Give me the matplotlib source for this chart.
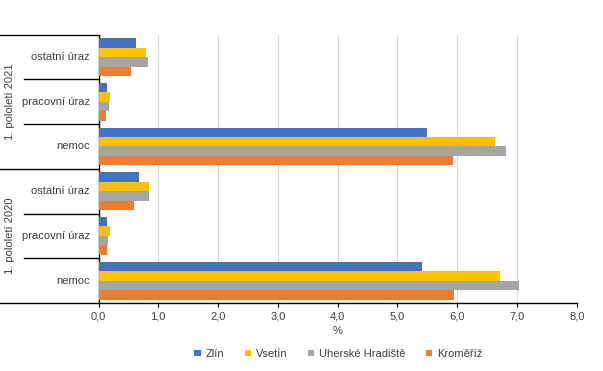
import matplotlib
matplotlib.use("Agg")
import matplotlib.pyplot as plt
import matplotlib.transforms as mtransforms
from matplotlib.lines import Line2D
import numpy as np

plt.rcParams['font.family'] = ['Liberation Sans', 'DejaVu Sans']

# categories bottom -> top
categories = ["nemoc", "pracovní úraz", "ostatní úraz", "nemoc", "pracovní úraz", "ostatní úraz"]
periods = ["1. pololetí 2020", "1. pololetí 2021"]
series_names = ["Zlín", "Vsetín", "Uherské Hradiště", "Kroměříž"]
zlin = [5.42, 0.14, 0.67, 5.50, 0.14, 0.62]
vsetin = [6.71, 0.19, 0.84, 6.64, 0.20, 0.79]
uh = [7.03, 0.16, 0.85, 6.81, 0.17, 0.82]
kromeriz = [5.95, 0.14, 0.60, 5.93, 0.12, 0.54]
xticks = [0, 1, 2, 3, 4, 5, 6, 7, 8]

colors = ["#4472C4", "#FFC000", "#A5A5A5", "#ED7D31"]
text_color = "#404040"
fs = 8

W, H = 603, 371
fig = plt.figure(figsize=(W / 100, H / 100), dpi=100)
left, right, top, bottom = 98.5, 576.7, 34.7, 303.0
ax = fig.add_axes([left / W, 1 - bottom / H, (right - left) / W, (bottom - top) / H])

y = np.arange(len(categories))
h = 0.212
offsets = [1.5, 0.5, -0.5, -1.5]
for vals, off, c, name in zip([zlin, vsetin, uh, kromeriz], offsets, colors, series_names):
    ax.barh(y + off * h, vals, height=h, color=c, label=name, zorder=3)

ax.set_xlim(0, 8)
ax.set_ylim(-0.5, 5.5)
ax.set_xticks(xticks)
ax.set_xticklabels([f"{v:.1f}".replace(".", ",") for v in xticks], fontsize=fs, color=text_color)
ax.set_yticks([])
ax.grid(axis="x", color="#D9D9D9", linewidth=0.8, zorder=0)
for s in ["top", "right"]:
    ax.spines[s].set_visible(False)
ax.spines["left"].set_color("black")
ax.spines["bottom"].set_color("black")
ax.spines["left"].set_linewidth(1.0)
ax.spines["bottom"].set_linewidth(1.0)
ax.tick_params(axis="x", length=3, width=0.8, color="black", pad=3)
ax.set_xlabel("%", fontsize=fs, color=text_color, labelpad=3)

trans = mtransforms.blended_transform_factory(ax.transAxes, ax.transData)
axw = right - left
x_full = -left / axw
x_cat = -(left - 24) / axw
for yy in [-0.5, 2.5, 5.5]:
    ax.add_line(Line2D([x_full, 0], [yy, yy], transform=trans, color="black", lw=1.0, clip_on=False))
for yy in [0.5, 1.5, 3.5, 4.5]:
    ax.add_line(Line2D([x_cat, 0], [yy, yy], transform=trans, color="black", lw=1.0, clip_on=False))

x_lab = -(left - 90) / axw
for yi, cat in zip(y, categories):
    ax.text(x_lab, yi, cat, transform=trans, ha="right", va="center", fontsize=fs, color=text_color)
x_per = -(left - 10.5) / axw
for yc, per in zip([1, 4], periods):
    ax.text(x_per, yc, per, transform=trans, ha="center", va="center", rotation=90, fontsize=fs, color=text_color)

leg = fig.legend(loc="center", bbox_to_anchor=(338.5 / W, 1 - 354 / H), ncol=4, frameon=False,
                 fontsize=fs, handlelength=0.55, handleheight=0.55, handletextpad=0.45, columnspacing=1.85)
for t in leg.get_texts():
    t.set_color(text_color)

fig.savefig("out.png", dpi=100)
